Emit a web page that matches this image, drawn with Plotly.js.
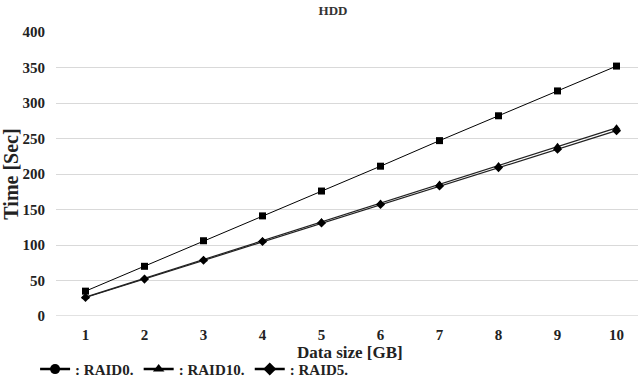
<!DOCTYPE html>
<html>
<head>
<meta charset="utf-8">
<script src="https://cdn.plot.ly/plotly-3.0.1.min.js"></script>
<style>html,body{margin:0;padding:0;background:#fff;}#chart{width:638px;height:380px;}</style>
</head>
<body>
<div id="chart"></div>
<script>
// Data
const dataSizeGB = [1, 2, 3, 4, 5, 6, 7, 8, 9, 10];
const raid0 = [35, 70, 106, 141, 176, 211, 247, 282, 317, 352];
const raid10 = [26.5, 53, 79.5, 106, 133, 159, 186, 212, 239, 265];
const raid5 = [26, 52, 78.5, 105, 131, 157, 183, 209, 235, 261];
const legendNames = [': RAID0.', ': RAID10.', ': RAID5.'];
const legendSymbols = ['circle', 'triangle-up', 'diamond'];
const yTicks = [0, 50, 100, 150, 200, 250, 300, 350, 400];
const xTitle = 'Data size [GB]';

const serif = 'Liberation Serif, Times New Roman, serif';

const traces = [
  {x: dataSizeGB, y: raid0, mode: 'lines+markers', showlegend: false,
   line: {color: '#000', width: 1}, marker: {symbol: 'square', size: 7, color: '#000'}},
  {x: dataSizeGB, y: raid10, mode: 'lines+markers', showlegend: false,
   line: {color: '#222', width: 1.2}, marker: {symbol: 'triangle-up', size: 7, color: '#000'}},
  {x: dataSizeGB, y: raid5, mode: 'lines+markers', showlegend: false,
   line: {color: '#222', width: 1.2}, marker: {symbol: 'diamond', size: 7, color: '#000'}}
];
legendNames.forEach((n, i) => {
  traces.push({x: [null], y: [null], mode: 'lines+markers', name: '<b>' + n + '</b>',
    line: {color: '#000', width: 2.5}, marker: {symbol: legendSymbols[i], size: 10, color: '#000'}});
});

const layout = {
  width: 638, height: 380,
  margin: {l: 56, r: 0, t: 32, b: 64},
  paper_bgcolor: '#fff', plot_bgcolor: '#fff',
  font: {family: serif, color: '#222'},
  title: {text: '<b>HDD</b>', x: 0.522, xanchor: 'center', y: 0.972, yanchor: 'middle',
          font: {family: serif, size: 13, color: '#333'}},
  xaxis: {
    range: [0.5, 10.364], tickvals: dataSizeGB, ticktext: dataSizeGB.map(v => '<b>' + v + '</b>'),
    showgrid: false, zeroline: false, showline: false, ticks: '',
    ticklabelstandoff: 8,
    tickfont: {family: serif, size: 15, color: '#222'}
  },
  yaxis: {
    range: [0, 400], tickvals: yTicks,
    ticktext: yTicks.map(v => '<b>' + v + '</b>'),
    showgrid: true, gridcolor: '#d9d9d9', gridwidth: 1, zeroline: false, showline: false, ticks: '',
    ticklabelstandoff: 10,
    tickfont: {family: serif, size: 15, color: '#222'},
    title: {text: '<b>Time [Sec]</b>', font: {family: serif, size: 20, color: '#222'}, standoff: 2}
  },
  annotations: [{text: '<b>' + xTitle + '</b>', xref: 'paper', yref: 'paper', x: 0.505, y: -0.127,
                 xanchor: 'center', yanchor: 'middle', showarrow: false,
                 font: {family: serif, size: 17, color: '#222'}}],
  legend: {orientation: 'h', x: 0.055, xref: 'container', y: 0.028, yref: 'container',
           xanchor: 'left', yanchor: 'middle',
           font: {family: serif, size: 15, color: '#222'}, itemwidth: 30,
           tracegroupgap: 0, bgcolor: 'rgba(0,0,0,0)'},
  shapes: [{type: 'line', xref: 'paper', yref: 'y', x0: 0, x1: 1, y0: 0, y1: 0,
            line: {color: '#d9d9d9', width: 1.5}}]
};

Plotly.newPlot('chart', traces, layout, {displayModeBar: false, staticPlot: true});
</script>
</body>
</html>
